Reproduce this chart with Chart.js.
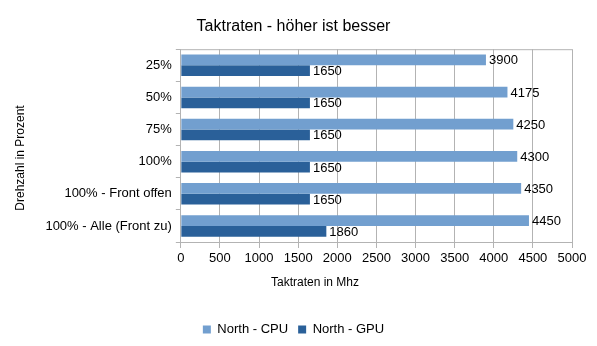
<!DOCTYPE html>
<html>
<head>
<meta charset="utf-8">
<script src="https://cdn.jsdelivr.net/npm/chart.js@4/dist/chart.umd.min.js"></script>
<style>
  body { margin: 0; background: #fff; }
  #wrap { width: 597px; height: 346px; }
</style>
</head>
<body>
<div id="wrap"><canvas id="taktChart" width="597" height="346"></canvas></div>
<script>
const categories = ['25%', '50%', '75%', '100%', '100% - Front offen', '100% - Alle (Front zu)'];
const cpuValues = [3900, 4175, 4250, 4300, 4350, 4450];
const gpuValues = [1650, 1650, 1650, 1650, 1650, 1860];
const xTicks = [0, 500, 1000, 1500, 2000, 2500, 3000, 3500, 4000, 4500, 5000];
const xTitle = 'Taktraten in Mhz';
const yTitle = 'Drehzahl in Prozent';

Chart.defaults.font.family = '"Liberation Sans", Arial, sans-serif';
Chart.defaults.color = '#000';

// Werte rechts neben die Balken schreiben
const valueLabels = {
    id: 'valueLabels',
    afterDatasetsDraw(chart) {
        const c = chart.ctx;
        c.save();
        c.font = '13px "Liberation Sans", Arial, sans-serif';
        c.fillStyle = '#000';
        c.textBaseline = 'middle';
        chart.data.datasets.forEach((ds, i) => {
            chart.getDatasetMeta(i).data.forEach((bar, j) => {
                c.fillText(String(ds.data[j]), bar.x + 3, bar.y + 1);
            });
        });
        c.restore();
    }
};

// obere Rahmenlinie + Achsentitel nicht mittig (wie im Original)
const extras = {
    id: 'extras',
    beforeDatasetsDraw(chart) {
        const a = chart.chartArea;
        const c = chart.ctx;
        c.save();
        c.strokeStyle = '#b3b3b3';
        c.lineWidth = 1;
        c.beginPath();
        c.moveTo(a.left, a.top + 0.5);
        c.lineTo(a.right, a.top + 0.5);
        c.stroke();
        c.restore();
    },
    afterDraw(chart) {
        const c = chart.ctx;
        c.save();
        c.font = '12px "Liberation Sans", Arial, sans-serif';
        c.fillStyle = '#000';
        c.textAlign = 'center';
        c.textBaseline = 'middle';
        c.fillText(xTitle, 315, 283);
        c.translate(21, 158);
        c.rotate(-Math.PI / 2);
        c.fillText(yTitle, 0, 0);
        c.restore();
    }
};

const ctx = document.getElementById('taktChart').getContext('2d');
let myChart = new Chart(ctx, {
    type: 'bar',
    data: {
        labels: categories,
        datasets: [
            {
                label: 'North - CPU',
                data: cpuValues,
                backgroundColor: '#729fcf',
                barPercentage: 1,
                categoryPercentage: 0.67
            },
            {
                label: 'North - GPU',
                data: gpuValues,
                backgroundColor: '#2a6099',
                barPercentage: 1,
                categoryPercentage: 0.67
            }
        ]
    },
    options: {
        indexAxis: 'y',
        responsive: false,
        animation: false,
        layout: { padding: { left: 15, right: 25, top: 8, bottom: 0 } },
        scales: {
            x: {
                min: 0,
                max: 5000,
                afterBuildTicks: (axis) => { axis.ticks = xTicks.map(v => ({ value: v })); },
                grid: { color: '#b3b3b3', tickLength: 6, drawTicks: true },
                border: { color: '#b3b3b3' },
                ticks: { font: { size: 13 }, padding: 3, maxRotation: 0, callback: (v) => String(v) },
                // Platz wird reserviert, gezeichnet wird der Titel im Plugin
                title: { display: true, text: xTitle, color: 'rgba(0,0,0,0)', font: { size: 12 }, padding: { top: 9, bottom: 20 } }
            },
            y: {
                grid: { offset: true, drawOnChartArea: false, color: '#b3b3b3', tickLength: 5 },
                border: { color: '#b3b3b3' },
                ticks: { font: { size: 13 }, padding: 4 },
                title: { display: true, text: yTitle, color: 'rgba(0,0,0,0)', font: { size: 12 }, padding: { top: 0, bottom: 12 } }
            }
        },
        plugins: {
            title: {
                display: true,
                text: 'Taktraten - höher ist besser',
                font: { size: 16, weight: 'normal' },
                padding: { top: 9, bottom: 13 }
            },
            legend: {
                position: 'bottom',
                labels: { boxWidth: 8, boxHeight: 8, font: { size: 13 }, padding: 10 }
            },
            tooltip: { enabled: false }
        }
    },
    plugins: [valueLabels, extras]
});
</script>
</body>
</html>
